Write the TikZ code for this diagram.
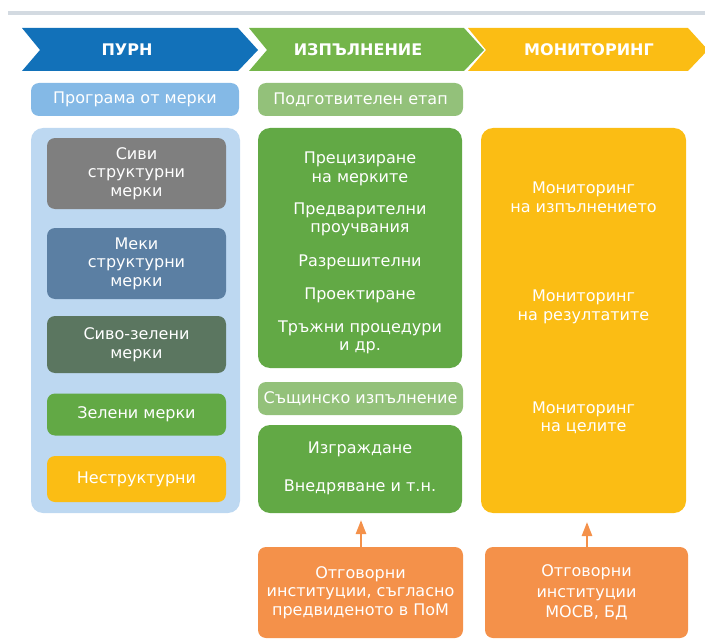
\documentclass[tikz,border=0pt]{standalone}
\usepackage{fontspec}
\setmainfont{DejaVu Sans}
\usetikzlibrary{arrows.meta}
\definecolor{cblue}{HTML}{1271B9}
\definecolor{cgreen}{HTML}{74B54A}
\definecolor{cyellow}{HTML}{FBBD14}
\definecolor{pillblue}{HTML}{84B9E6}
\definecolor{contblue}{HTML}{BDD8F1}
\definecolor{cgray}{HTML}{7F7F7F}
\definecolor{bluegray}{HTML}{5B7FA3}
\definecolor{greengray}{HTML}{5B7660}
\definecolor{mgreen}{HTML}{62A945}
\definecolor{pillgreen}{HTML}{93C17A}
\definecolor{corange}{HTML}{F4914A}
\definecolor{topline}{HTML}{D3DAE1}
\tikzset{
  box/.style={rounded corners=8pt, inner sep=0pt, text=white, align=center, font=\fontsize{16}{18.5}\selectfont},
  pill/.style={rounded corners=8pt, inner sep=0pt, text=white, align=center, font=\fontsize{16}{18}\selectfont},
  txt/.style={text=white, align=center, inner sep=0pt, font=\fontsize{16}{18.5}\selectfont},
  chev/.style={text=white, font=\fontsize{16}{18}\selectfont\bfseries},
  up/.style={draw=corange, line width=2.5pt, -{Triangle[length=14pt,width=10pt]}}
}
\begin{document}
\begin{tikzpicture}[x=1pt,y=-1pt]
\useasboundingbox (0,0) rectangle (705,642);
% top line
\fill[topline] (8,11) rectangle (705,15);
% chevrons
\fill[cblue] (22,28) -- (238,28) -- (258,50) -- (238,71) -- (22,71) -- (40,50) -- cycle;
\fill[cgreen] (249,28) -- (464,28) -- (484,50) -- (464,71) -- (249,71) -- (267,50) -- cycle;
\fill[cyellow] (468,28) -- (688,28) -- (708,50) -- (688,71) -- (468,71) -- (486,50) -- cycle;
\node[chev] (h1) at (127,50) {ПУРН};
\node[chev] (h2) at (358,50) {ИЗПЪЛНЕНИЕ};
\node[chev] (h3) at (589,50) {МОНИТОРИНГ};
% left column
\node[pill, fill=pillblue, minimum width=208pt, minimum height=33pt] (pom) at (135,99.5) {Програма от мерки};
\node[rounded corners=12pt, fill=contblue, minimum width=209pt, minimum height=385pt, inner sep=0pt] (cont) at (135.5,320.5) {};
\node[box, fill=cgray, minimum width=179pt, minimum height=71pt] (b1) at (136.5,173.5) {Сиви\\структурни\\мерки};
\node[box, fill=bluegray, minimum width=179pt, minimum height=71pt] (b2) at (136.5,263.5) {Меки\\структурни\\мерки};
\node[box, fill=greengray, minimum width=179pt, minimum height=57pt] (b3) at (136.5,344.5) {Сиво-зелени\\мерки};
\node[box, fill=mgreen, minimum width=179pt, minimum height=42pt] (b4) at (136.5,414.5) {Зелени мерки};
\node[box, fill=cyellow, minimum width=179pt, minimum height=46pt] (b5) at (136.5,479) {Неструктурни};
% middle column
\node[pill, fill=pillgreen, minimum width=205pt, minimum height=33pt] (prep) at (360.5,99.5) {Подготвителен етап};
\node[rounded corners=12pt, fill=mgreen, minimum width=204pt, minimum height=240pt, inner sep=0pt] (impl1) at (360,248) {};
\node[txt] (t1) at (360,169) {Прецизиране\\на мерките};
\node[txt] (t2) at (360,219.5) {Предварителни\\проучвания};
\node[txt] (t3) at (360,262) {Разрешителни};
\node[txt] (t4) at (360,295) {Проектиране};
\node[txt] (t5) at (360,337.5) {Тръжни процедури\\и др.};
\node[pill, fill=pillgreen, minimum width=205pt, minimum height=33pt] (real) at (360.5,398.5) {Същинско изпълнение};
\node[rounded corners=12pt, fill=mgreen, minimum width=204pt, minimum height=88pt, inner sep=0pt] (impl2) at (360,469) {};
\node[txt] (t6) at (360,449) {Изграждане};
\node[txt] (t7) at (360,487) {Внедряване и т.н.};
\node[box, fill=corange, minimum width=205pt, minimum height=91pt] (resp1) at (360.5,592.5) {Отговорни\\институции, съгласно\\предвиденото в ПоМ};
% right column
\node[rounded corners=12pt, fill=cyellow, minimum width=205pt, minimum height=385pt, inner sep=0pt] (mon) at (583.5,320.5) {};
\node[txt] (m1) at (583.5,197.5) {Мониторинг\\на изпълнението};
\node[txt] (m2) at (583.5,307) {Мониторинг\\на резултатите};
\node[txt] (m3) at (583.5,418) {Мониторинг\\на целите};
\node[box, fill=corange, minimum width=203pt, minimum height=91pt, font=\fontsize{16}{20.5}\selectfont] (resp2) at (586.5,592.5) {Отговорни\\институции\\МОСВ, БД};
% arrows
\draw[up, shorten >=7pt] (resp1.north -| 361,0) -- (361,513);
\draw[up, shorten >=9pt] (resp2.north -| 587,0) -- (587,513);
\end{tikzpicture}
\end{document}
